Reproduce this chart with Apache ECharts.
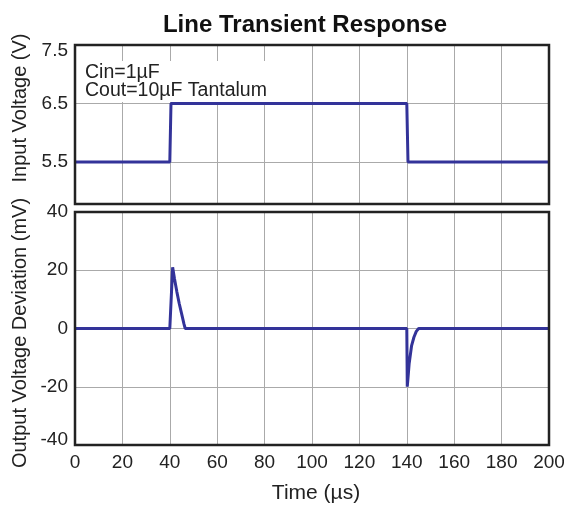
<!DOCTYPE html>
<html><head><meta charset="utf-8">
<script src="https://cdn.jsdelivr.net/npm/echarts@6/dist/echarts.min.js"></script>
<style>html,body{margin:0;padding:0;background:#fff}#c{width:564px;height:506px}</style>
</head><body><div id="c"></div>
<script>
// Input voltage (V) vs time (µs)
const vinTime = [0, 40, 40.5, 140, 140.5, 200];
const vinValue = [5.5, 5.5, 6.5, 6.5, 5.5, 5.5];
// Output voltage deviation (mV) vs time (µs)
const voutTime = [0, 40, 41.2, 42, 43, 44, 45, 46, 46.5, 140, 140.2, 140.5, 141, 142, 143, 144, 145, 200];
const voutValue = [0, 0, 21, 17, 12.5, 8.5, 5, 1.5, 0, 0, -20, -17, -12, -6, -3, -1, 0, 0];
const xTicks = [0, 20, 40, 60, 80, 100, 120, 140, 160, 180, 200];
const vinTicks = [5.5, 6.5, 7.5];
const voutTicks = [-40, -20, 0, 20, 40];
const notes = ['Cin=1µF', 'Cout=10µF Tantalum'];

const FONT = '"Liberation Sans", Arial, sans-serif';
const TXT = '#222';
const LINE = '#333399';
const chart = echarts.init(document.getElementById('c'));
const xCommon = {
  type: 'value', min: 0, max: 200, interval: 20,
  axisLine: {show: false}, axisTick: {show: false},
  splitLine: {show: true, lineStyle: {color: '#aaa', width: 1}}
};
const lblRich = {
  dn: {fontFamily: FONT, fontSize: 19, color: TXT, padding: [12, 0, 0, 0]},
  up: {fontFamily: FONT, fontSize: 19, color: TXT, padding: [0, 0, 10, 0]}
};
chart.setOption({
  animation: false,
  title: {text: 'Line Transient Response', left: 300, textAlign: 'center', top: 8,
    textStyle: {fontFamily: FONT, fontWeight: 'bold', fontSize: 24, color: '#111'}},
  grid: [
    {left: 75, right: 15, top: 45, height: 159, show: true, borderColor: '#222', borderWidth: 2.5, backgroundColor: 'transparent', z: 5, outerBoundsMode: 'none', containLabel: false},
    {left: 75, right: 15, top: 212, height: 233, show: true, borderColor: '#222', borderWidth: 2.5, backgroundColor: 'transparent', z: 5, outerBoundsMode: 'none', containLabel: false}
  ],
  xAxis: [
    Object.assign({gridIndex: 0, axisLabel: {show: false}}, xCommon),
    Object.assign({gridIndex: 1, axisLabel: {show: true, fontFamily: FONT, fontSize: 19, color: TXT, margin: 8},
      name: 'Time (µs)', nameLocation: 'middle', nameGap: 38,
      nameTextStyle: {fontFamily: FONT, fontSize: 21, color: TXT, padding: [0, 0, 0, 8]}}, xCommon)
  ],
  yAxis: [
    {gridIndex: 0, type: 'value', min: 4.78, max: 7.5,
      axisLine: {show: false},
      axisTick: {show: false, customValues: vinTicks},
      axisLabel: {customValues: vinTicks, fontFamily: FONT, fontSize: 19, color: TXT, margin: 7, rich: lblRich,
        formatter: v => v === vinTicks[vinTicks.length - 1] ? '{dn|' + v.toFixed(1) + '}' : v.toFixed(1)},
      splitLine: {show: true, lineStyle: {color: '#aaa', width: 1}}},
    {gridIndex: 1, type: 'value', min: -40, max: 40, interval: 20,
      axisLine: {show: false}, axisTick: {show: false},
      axisLabel: {fontFamily: FONT, fontSize: 19, color: TXT, margin: 7, rich: lblRich,
        formatter: v => v === voutTicks[0] ? '{up|' + v + '}' : String(v)},
      splitLine: {show: true, lineStyle: {color: '#aaa', width: 1}}}
  ],
  graphic: [
    {type: 'text', x: 20, y: 108, rotation: Math.PI / 2,
      style: {text: 'Input Voltage (V)', font: '20px ' + FONT, fill: TXT, align: 'center', verticalAlign: 'middle'}},
    {type: 'text', x: 20, y: 333, rotation: Math.PI / 2,
      style: {text: 'Output Voltage Deviation (mV)', font: '20px ' + FONT, fill: TXT, align: 'center', verticalAlign: 'middle'}},
    {type: 'text', x: 81, y: 61, z: 10,
      style: {text: notes.join('\n'), font: '19.5px ' + FONT, fill: TXT, lineHeight: 18.5,
        backgroundColor: '#fff', padding: [2, 4, 2, 4]}}
  ],
  series: [
    {type: 'line', xAxisIndex: 0, yAxisIndex: 0, showSymbol: false,
      data: vinTime.map((t, i) => [t, vinValue[i]]),
      lineStyle: {color: LINE, width: 3}, itemStyle: {color: LINE}},
    {type: 'line', xAxisIndex: 1, yAxisIndex: 1, showSymbol: false,
      data: voutTime.map((t, i) => [t, voutValue[i]]),
      lineStyle: {color: LINE, width: 3}, itemStyle: {color: LINE}}
  ]
});
</script></body></html>
